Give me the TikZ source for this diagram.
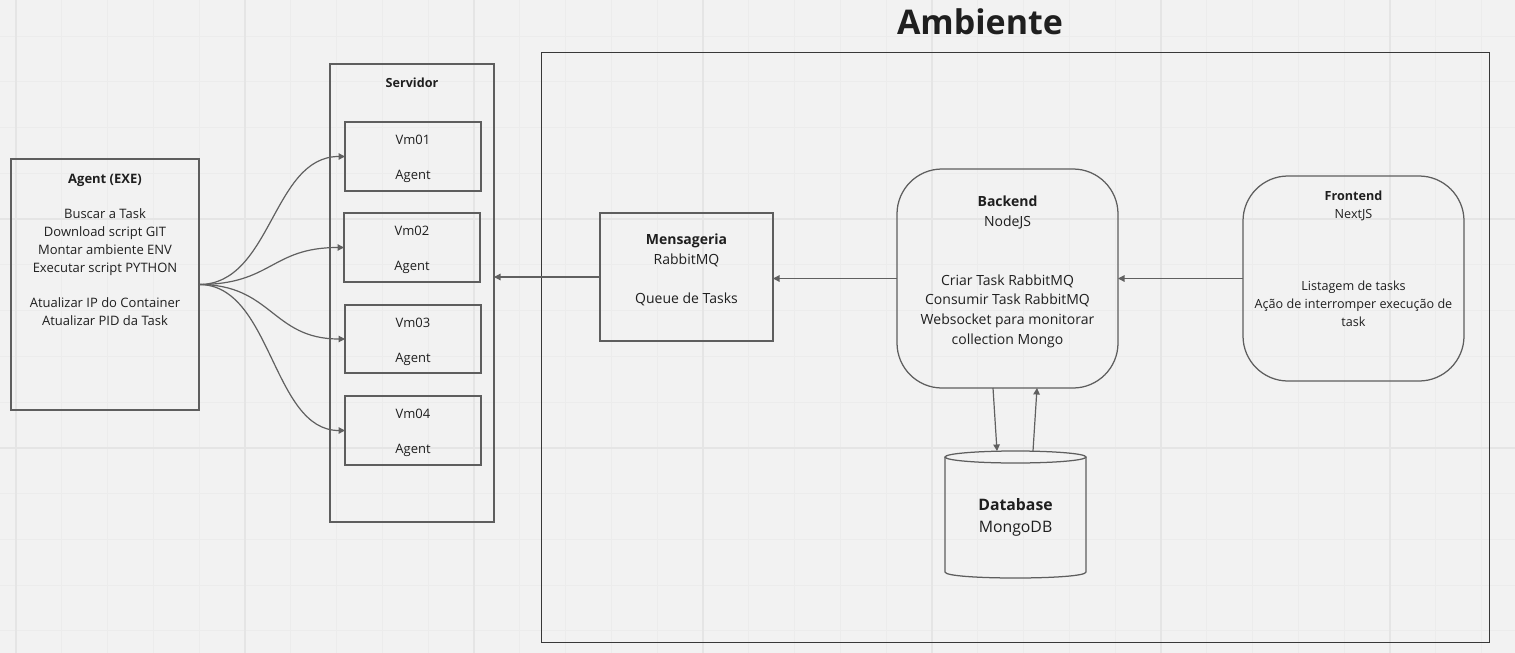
\documentclass[tikz,border=0pt]{standalone}
\usepackage{fontspec}
\setmainfont{Open Sans}
\usetikzlibrary{arrows.meta,calc}
\definecolor{bg}{HTML}{F2F2F2}
\definecolor{gridminor}{HTML}{ECECEC}
\definecolor{gridmajor}{HTML}{E5E5E5}
\definecolor{edge}{HTML}{5E5E5E}
\definecolor{frame}{HTML}{383838}
\definecolor{ink}{HTML}{1F1F1F}
\definecolor{wire}{HTML}{606060}
\begin{document}
\begin{tikzpicture}[x=1pt,y=-1pt,
  box/.style={draw=edge,line width=1.25pt,inner sep=0pt,outer sep=0pt},
  rbox/.style={box,rounded corners=45pt},
  txt/.style={inner sep=0pt,outer sep=0pt,text=ink,align=center},
  vmtxt/.style={txt,font=\fontsize{13}{17.5}\selectfont},
  wirearrow/.style={draw=wire,line width=1.2pt,-{Triangle[length=6.5pt,width=6.5pt]}},
  cyl/.style={draw=edge,line width=1.25pt},
  gmin/.style={draw=gridminor,line width=1pt},
  gmaj/.style={draw=gridmajor,line width=1.5pt},
]
\useasboundingbox (0,0) rectangle (1515,653);
\fill[bg] (0,0) rectangle (1515,653);
% grid
\foreach \k in {0,...,32} {
  \pgfmathsetmacro\xx{16+45.8*\k}
  \draw[gmin] (\xx,0) -- (\xx,653);
}
\foreach \k in {0,...,13} {
  \pgfmathsetmacro\yy{36+45.75*\k}
  \draw[gmin] (0,\yy) -- (1515,\yy);
}
\foreach \xx in {16,245,474,703,932,1161,1390} \draw[gmaj] (\xx,0) -- (\xx,653);
\foreach \yy in {219,448} \draw[gmaj] (0,\yy) -- (1515,\yy);

% title and frame
\node[txt,anchor=base,font=\fontsize{34}{40}\selectfont\bfseries] (title) at (980,34.3) {Ambiente};
\node[draw=frame,line width=1pt,inner sep=0pt,outer sep=0pt,minimum width=948pt,minimum height=590pt] (amb) at (1015,347) {};

% agent
\node[box,minimum width=188pt,minimum height=251pt] (agent) at (105,284.5) {};
\node[txt,font=\fontsize{13}{17.75}\selectfont] (agenttxt) at (105,250.7)
  {\strut\textbf{Agent (EXE)}\\[17.75pt]
   Buscar a Task\\ Download script GIT\\ Montar ambiente ENV\\ Executar script PYTHON\\[17.75pt]
   Atualizar IP do Container\\ Atualizar PID da Task\strut};

% servidor
\node[box,minimum width=164pt,minimum height=458pt] (serv) at (412,293) {};
\node[txt,anchor=base,font=\fontsize{12.6}{15}\selectfont\bfseries] (servtxt) at (412,87) {Servidor};
\node[box,minimum width=136pt,minimum height=69pt] (vm1) at (413,156.5) {};
\node[box,minimum width=136pt,minimum height=69pt] (vm2) at (412,247.5) {};
\node[box,minimum width=136pt,minimum height=68pt] (vm3) at (413,339) {};
\node[box,minimum width=136pt,minimum height=69pt] (vm4) at (413,430.5) {};
\node[vmtxt] (vm1txt) at (413,158.5) {\strut Vm01\\[17.5pt]Agent\strut};
\node[vmtxt] (vm2txt) at (412,249.5) {\strut Vm02\\[17.5pt]Agent\strut};
\node[vmtxt] (vm3txt) at (413,341) {\strut Vm03\\[17.5pt]Agent\strut};
\node[vmtxt] (vm4txt) at (413,432.5) {\strut Vm04\\[17.5pt]Agent\strut};

% mensageria
\node[box,minimum width=173pt,minimum height=128pt] (mens) at (686.5,277) {};
\node[txt,font=\fontsize{14}{19.5}\selectfont] (menstxt) at (686.5,269.9)
  {\strut\textbf{Mensageria}\\ RabbitMQ\\[19.5pt] Queue de Tasks\strut};

% backend
\node[rbox,minimum width=221pt,minimum height=219pt] (back) at (1007.5,278.5) {};
\node[txt,font=\fontsize{14}{19.7}\selectfont] (backtxt) at (1007.5,271.4)
  {\strut\textbf{Backend}\\ NodeJS\\[39.4pt] Criar Task RabbitMQ\\ Consumir Task RabbitMQ\\ Websocket para monitorar\\ collection Mongo\strut};

% frontend
\node[rbox,minimum width=221pt,minimum height=205pt] (front) at (1353.5,278.5) {};
\node[txt,font=\fontsize{12.6}{18}\selectfont] (fronttxt) at (1353.5,259.8)
  {\strut\textbf{Frontend}\\ NextJS\\[54pt] Listagem de tasks\\ Ação de interromper execução de\\ task\strut};

% database
\node[inner sep=0pt,outer sep=0pt,minimum width=141pt,minimum height=127pt] (db) at (1015.5,514.5) {};
\draw[cyl] ($(db.north west)+(0,6)$) -- ($(db.south west)+(0,-6)$)
  .. controls +(0,8) and +(0,8) .. ($(db.south east)+(0,-6)$) -- ($(db.north east)+(0,6)$);
\draw[cyl] ($(db.north)+(0,6)$) ellipse [x radius=70.5, y radius=6];
\node[txt,font=\fontsize{15.8}{22}\selectfont] (dbtxt) at (1015.5,516.8)
  {\strut\textbf{Database}\\ MongoDB\strut};

% connectors
\foreach \v in {vm1,vm2,vm3,vm4}
  \draw[wirearrow] (agent.east) .. controls +(73,0) and +(-73,0) .. (\v.west);
\draw[wirearrow] (mens.west) -- (mens.west -| serv.east);
\draw[wirearrow] (back.west) -- (back.west -| mens.east);
\draw[wirearrow] (front.west) -- (front.west -| back.east);
\draw[wirearrow] ([xshift=-14.5pt]back.south) -- ([xshift=-18.5pt]db.north);
\draw[wirearrow] ([xshift=17.5pt]db.north) -- ([xshift=29.5pt]back.south);
\end{tikzpicture}
\end{document}
